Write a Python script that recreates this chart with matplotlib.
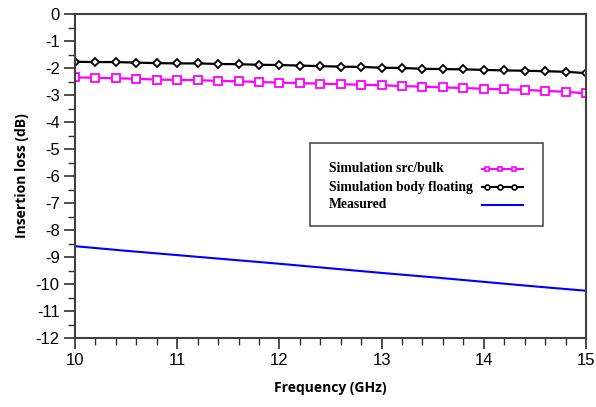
import numpy as np
import matplotlib
matplotlib.use("Agg")
import matplotlib.pyplot as plt
from matplotlib.ticker import MultipleLocator
from matplotlib.patches import Rectangle
from matplotlib.lines import Line2D

plt.rcParams['axes.unicode_minus'] = False

freq = [10.0, 10.2, 10.4, 10.6, 10.8, 11.0, 11.2, 11.4, 11.6, 11.8, 12.0, 12.2, 12.4,
        12.6, 12.8, 13.0, 13.2, 13.4, 13.6, 13.8, 14.0, 14.2, 14.4, 14.6, 14.8, 15.0]

src_bulk = [-2.35, -2.36, -2.38, -2.40, -2.43, -2.44, -2.45, -2.48, -2.49, -2.52, -2.54,
            -2.56, -2.58, -2.60, -2.62, -2.64, -2.67, -2.69, -2.72, -2.74, -2.77, -2.79,
            -2.81, -2.85, -2.88, -2.94]

body_floating = [-1.77, -1.78, -1.78, -1.80, -1.82, -1.83, -1.83, -1.85, -1.86, -1.88,
                 -1.89, -1.91, -1.93, -1.95, -1.96, -1.99, -2.00, -2.03, -2.04, -2.05,
                 -2.07, -2.09, -2.10, -2.12, -2.14, -2.19]

meas_freq = [10.0, 10.5, 11.0, 11.5, 12.0, 12.5, 13.0, 13.5, 14.0, 14.5, 15.0]
measured = [-8.60, -8.77, -8.93, -9.09, -9.25, -9.42, -9.59, -9.75, -9.92, -10.09, -10.25]

labels = ['Simulation src/bulk', 'Simulation body floating', 'Measured']

W, H = 596, 407
fig = plt.figure(figsize=(W / 100, H / 100), dpi=100)
ax = fig.add_axes([75 / W, 1 - 338 / H, 511 / W, 324 / H])

def px(x, y):
    # pixel position (from top-left) to figure fraction
    return x / W, 1 - y / H

l1, = ax.plot(freq, src_bulk, color='#ff00ff', lw=1.6, marker='s', ms=5.5,
              mfc='white', mec='#ff00ff', mew=1.3)
l2, = ax.plot(freq, body_floating, color='black', lw=1.6, marker='D', ms=4.5,
              mfc='white', mec='black', mew=1.3)
l3, = ax.plot(meas_freq, measured, color='#0000ff', lw=1.5)

ax.set_xlim(10, 15)
ax.set_ylim(-12, 0)
ax.xaxis.set_major_locator(MultipleLocator(1))
ax.xaxis.set_minor_locator(MultipleLocator(0.2))
ax.yaxis.set_major_locator(MultipleLocator(1))
ax.yaxis.set_minor_locator(MultipleLocator(0.5))

for s in ax.spines.values():
    s.set_color('#404040')
    s.set_linewidth(1.5)
ax.tick_params(which='major', direction='out', length=8, width=1.2, color='#303030',
               labelsize=12, pad=3)
ax.tick_params(which='minor', direction='out', length=5, width=1.0, color='#303030')
for lbl in ax.get_xticklabels() + ax.get_yticklabels():
    lbl.set_fontfamily('Liberation Sans')

ax.set_xlabel('Frequency (GHz)', fontsize=10, fontweight='bold', family='Open Sans',
              labelpad=9)
ax.set_ylabel('Insertion loss (dB)', fontsize=10, fontweight='bold', family='Open Sans',
              labelpad=5)

# legend drawn by hand: text left aligned, samples in a column on the right
x0, y0 = px(310, 226)
x1, y1 = px(543, 143)
fig.add_artist(Rectangle((x0, y0), x1 - x0, y1 - y0, transform=fig.transFigure,
                         facecolor='white', edgecolor='#505050', lw=1.2))
rows = [169, 187, 205]
for lab, line, yr in zip(labels, [l1, l2, l3], rows):
    tx, ty = px(329, yr)
    fig.text(tx, ty, lab, family='Liberation Serif', weight='bold', fontsize=9.8,
             va='center', ha='left')
    hx0, hy = px(482, yr)
    hx1, _ = px(523, yr)
    fig.add_artist(Line2D([hx0, hx1], [hy, hy], transform=fig.transFigure,
                          color=line.get_color(), lw=1.5))
    if line.get_marker() not in (None, 'None', ''):
        mx = [hx0 + (hx1 - hx0) * f for f in (0.12, 0.45, 0.78)]
        fig.add_artist(Line2D(mx, [hy] * 3, transform=fig.transFigure, ls='none',
                              marker='s' if line is l1 else 'o', ms=3.5,
                              mfc='white', mec=line.get_color(), mew=1.2))

fig.savefig('out.png', dpi=100)
